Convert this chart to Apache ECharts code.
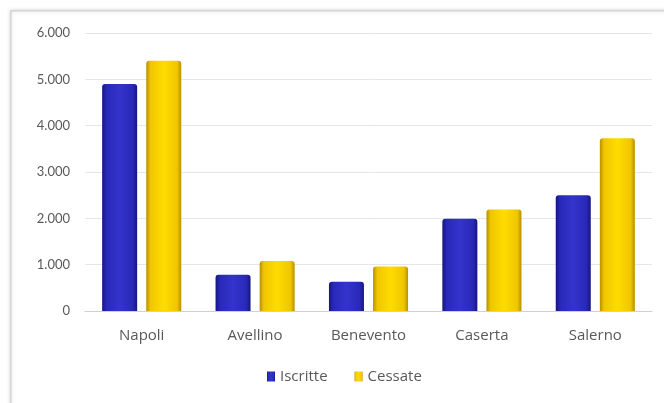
<!DOCTYPE html>
<html><head><meta charset="utf-8">
<script src="https://cdn.jsdelivr.net/npm/echarts@6/dist/echarts.min.js"></script>
<style>html,body{margin:0;padding:0;background:#fff}#c{width:664px;height:403px}</style>
</head><body><div id="c"></div>
<script>
const categories = ['Napoli', 'Avellino', 'Benevento', 'Caserta', 'Salerno'];
const iscritte = [4900, 780, 630, 1990, 2500];
const cessate = [5400, 1080, 960, 2190, 3730];
const yTicks = [0, 1000, 2000, 3000, 4000, 5000, 6000];

function fmt(v){ return String(v).replace(/\B(?=(\d{3})+(?!\d))/g, '.'); }
function grad(edge, mid, light){
  return new echarts.graphic.LinearGradient(0,0,1,0,[
    {offset:0,color:edge},{offset:0.12,color:mid},{offset:0.5,color:light},{offset:0.88,color:mid},{offset:1,color:edge}
  ]);
}
const chart = echarts.init(document.getElementById('c'));
chart.setOption({
  animation:false,
  backgroundColor:'#fff',
  graphic:[{type:'rect',left:10,top:10,shape:{x:0,y:0,width:700,height:450},
    style:{fill:'#fff',stroke:'#d4d4d4',lineWidth:1.5,shadowBlur:4,shadowColor:'rgba(0,0,0,0.15)'},z:-10}],
  grid:{left:85,right:12,top:33,bottom:92},
  legend:{bottom:19,left:267,padding:0,itemWidth:8,itemHeight:10,itemGap:27,
    textStyle:{fontFamily:'Open Sans',fontSize:15,color:'#595959'},
    data:[{name:'Iscritte',icon:'rect'},{name:'Cessate',icon:'rect'}]},
  xAxis:{type:'category',data:categories,axisTick:{show:false},
    axisLine:{lineStyle:{color:'#d0d0d0'}},
    axisLabel:{fontFamily:'Open Sans',fontSize:15,color:'#595959',margin:17}},
  yAxis:{type:'value',min:yTicks[0],max:yTicks[yTicks.length-1],interval:1000,
    axisLine:{show:false},axisTick:{show:false},
    splitLine:{lineStyle:{color:'#e6e6e6'}},
    axisLabel:{fontFamily:'Lato',fontSize:13,color:'#595959',margin:15,formatter:fmt}},
  series:[
    {name:'Iscritte',type:'bar',data:iscritte,barWidth:35,barGap:'26%',
      itemStyle:{color:grad('#151580','#2828b8','#3434cc'),borderRadius:[3,3,0,0]}},
    {name:'Cessate',type:'bar',data:cessate,barWidth:35,
      itemStyle:{color:grad('#b89000','#f0c600','#ffdc00'),borderRadius:[3,3,0,0]}}
  ]
});
</script></body></html>
